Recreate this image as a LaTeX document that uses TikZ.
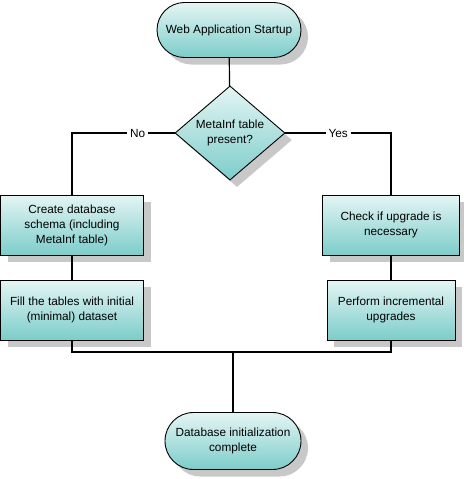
\documentclass[tikz,border=0pt]{standalone}
\usepackage{fontspec}
\setmainfont{Liberation Sans}
\usetikzlibrary{shapes.geometric,shapes.misc,shadows}

\definecolor{tealtop}{HTML}{E4F5F4}
\definecolor{tealbot}{HTML}{7CCDCA}
\definecolor{shade}{HTML}{C8C8C8}

\begin{document}
\begin{tikzpicture}[
	x=1pt, y=-1pt,
	every node/.style={font=\fontsize{11.8pt}{15pt}\selectfont},
	filled/.style={draw, line width=0.9pt, top color=tealtop, bottom color=tealbot,
		drop shadow={shadow xshift=7pt, shadow yshift=-7pt, fill=shade, opacity=1}},
	term/.style={filled, rounded rectangle, minimum width=148pt, minimum height=55pt, align=center, inner sep=2pt},
	test/.style={filled, diamond, minimum width=110pt, minimum height=90pt, inner sep=0pt, align=center},
	task/.style={filled, rectangle, minimum height=60pt, align=center, inner sep=2pt},
	flow/.style={line width=1.2pt},
	answer/.style={fill=white, inner sep=3pt}
]
\useasboundingbox (0,0) rectangle (463,479);

\node[term] (start) at (229,30) {Web Application Startup};
\node[test] (meta) at (230,133) {MetaInf table\\present?};
\node[task, minimum width=143pt] (schema) at (72,225) {Create database\\schema (including\\MetaInf table)};
\node[task, minimum width=143pt] (fill) at (72,310) {Fill the tables with initial\\(minimal) dataset};
\node[task, minimum width=137pt] (check) at (391,225) {Check if upgrade is\\necessary};
\node[task, minimum width=128pt] (upgrade) at (391,310) {Perform incremental\\upgrades};
\node[term, minimum width=140pt, minimum height=57pt] (done) at (233,441) {Database initialization\\complete};
\coordinate (merge) at (233,352);

% connectors
\draw[flow] (start) -- (meta);
\draw[flow] (meta.west) -| node[answer, pos=0.18] {No} (schema.north);
\draw[flow] (meta.east) -| node[answer, pos=0.25] {Yes} (check.north);
\draw[flow] (schema) -- (fill);
\draw[flow] (check) -- (upgrade);
\draw[flow] (fill.south) |- (merge) -| (upgrade.south);
\draw[flow] (merge) -- (done);
\end{tikzpicture}
\end{document}
